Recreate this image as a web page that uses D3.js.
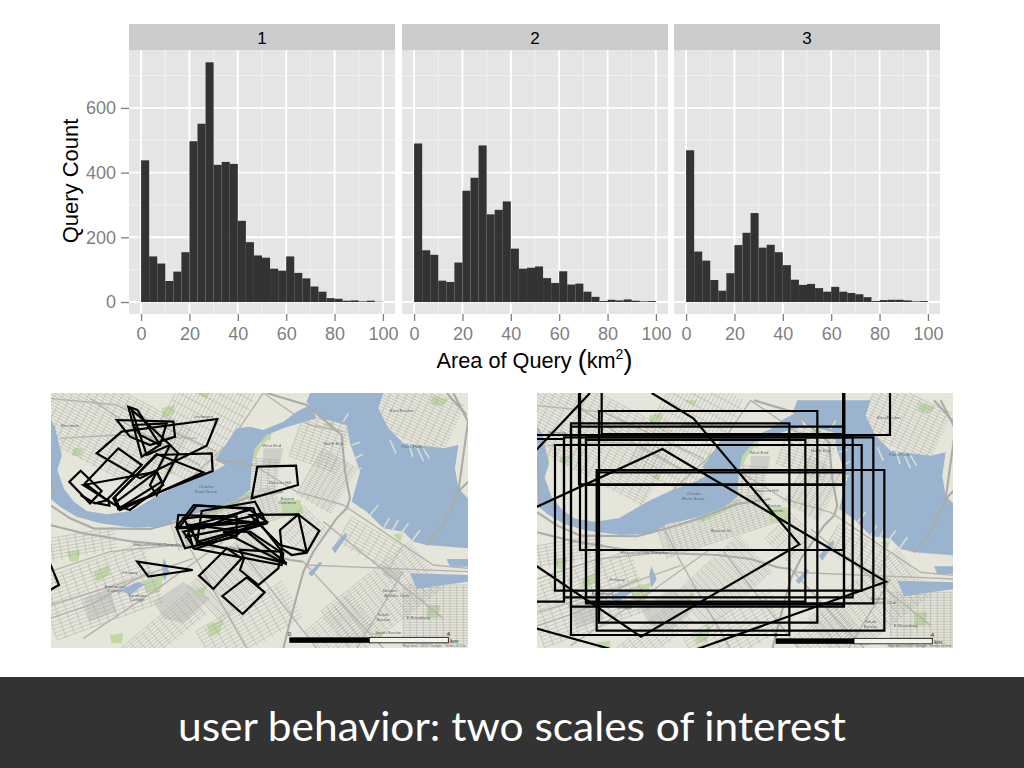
<!DOCTYPE html>
<html><head><meta charset="utf-8">
<style>html,body{margin:0;padding:0;background:#fff;overflow:hidden}svg{display:block}text{font-family:"Liberation Sans",Arial,sans-serif}</style>
<script src="https://d3js.org/d3.v7.min.js"></script></head>
<body><svg id="c" width="1024" height="768"></svg>
<script>
// ---------- histogram data ----------
const facets = ["1","2","3"];
const binWidth = 100/30;
const counts1 = [438,141,119,65,94,154,497,551,741,424,433,427,251,185,144,137,103,97,141,90,73,48,32,12,10,4,5,2,4,1];
const counts2 = [490,160,146,66,62,122,344,384,484,271,285,311,165,103,106,110,74,59,95,54,57,32,16,3,7,5,8,4,2,3];
const counts3 = [469,156,128,68,35,89,176,214,275,168,177,154,114,69,53,56,43,32,47,32,28,24,15,3,6,7,7,5,2,3];
const xTicks = [0,20,40,60,80,100];
const xMinor = [10,30,50,70,90];
const yTicks = [0,200,400,600];
const yMinor = [100,300,500,700];
const xTitle = "Area of Query ";
const yTitle = "Query Count";
const slideTitle = "user behavior: two scales of interest";

// ---------- query polygons on the maps (crop coordinates) ----------
const smallQueries = [
 [[502,102],[470,182],[270,280],[140,205],[215,140]],
 [[200,105],[370,110],[375,155],[300,180],[240,155]],
 [[235,65],[262,75],[330,180],[275,215]],
 [[205,190],[275,240],[170,345],[105,295]],
 [[58,290],[92,257],[155,318],[120,355]],
 [[485,205],[488,258],[205,370],[190,340],[320,210]],
 [[320,207],[460,262],[210,375],[195,335]],
 [[100,300],[320,260],[340,300],[240,375],[195,360]],
 [[92,330],[135,355],[175,345],[178,362],[125,352]],
 [[360,180],[385,205],[320,330],[300,300]],
 [[245,75],[275,100],[360,180],[290,210]],
 [[250,120],[350,115],[330,180],[270,150]],
 [[320,260],[200,350],[205,372],[335,290]],
 [[622,245],[738,242],[744,300],[605,340]],
 [[432,360],[595,372],[460,430],[380,425]],
 [[455,378],[615,350],[650,415],[440,480]],
 [[385,390],[560,395],[560,455],[405,490],[380,430]],
 [[410,420],[625,410],[700,505],[695,540],[430,490]],
 [[600,390],[745,388],[770,500],[690,480]],
 [[690,435],[745,388],[808,437],[770,503],[725,510],[695,490]],
 [[440,470],[710,535],[590,440],[420,420]],
 [[400,440],[640,385],[560,450],[435,492]],
 [[440,362],[610,370],[625,410],[385,430]],
 [[455,395],[640,415],[445,470],[400,400]],
 [[430,420],[600,375],[650,410],[410,455]],
 [[520,440],[705,535],[690,500],[600,440]],
 [[447,572],[530,490],[575,520],[490,612]],
 [[570,555],[582,520],[570,495],[695,500],[685,550],[625,600]],
 [[517,633],[590,577],[644,622],[578,687]],
 [[262,530],[428,555],[295,575]]
];
const smallOpen = [[[0,535],[27,600],[0,615]]];
const largeQueries = [
 [[-50,-10],[1080,-10],[1080,150],[-50,150]],
 [[215,-10],[940,-10],[940,147],[215,147]],
 [[150,-10],[940,-10],[940,300],[150,300]],
 [[150,-10],[940,-10],[940,495],[150,495]],
 [[147,-10],[943,-10],[943,298],[147,298]],
 [[207,78],[862,78],[862,713],[207,713]],
 [[123,115],[778,115],[778,750],[123,750]],
 [[123,125],[942,125],[942,665],[123,665]],
 [[102,157],[968,157],[968,637],[102,637]],
 [[168,157],[1030,157],[1030,655],[168,655]],
 [[75,180],[995,180],[995,617],[75,617]],
 [[168,165],[826,165],[826,650],[168,650]],
 [[200,255],[1063,255],[1063,737],[200,737]],
 [[205,262],[942,262],[942,658],[205,658]],
 [[-50,162],[102,162],[102,650],[-50,650]]
];
const largeOpen = [
 [[0,375],[397,192],[1068,590],[480,800]],
 [[365,24],[490,100],[808,478],[333,755],[0,530]],
 [[180,24],[0,215]],
 [[0,725],[270,800]]
];

// ---------- base map illustration (crop coordinates of the first map) ----------
const water = [
 [[0,100],[15,125],[35,215],[22,255],[42,312],[72,350],[110,378],[170,388],[245,378],[330,328],[400,295],[480,265],[525,240],[495,225],[520,190],[560,130],[600,125],[640,135],[700,110],[740,80],[780,60],[800,100],[700,130],[650,150],[615,190],[605,240],[600,315],[560,345],[480,375],[390,395],[340,425],[250,428],[150,415],[80,395],[30,365],[0,340]],
 [[780,24],[1000,24],[985,70],[1015,130],[1060,175],[1180,190],[1225,180],[1215,250],[1225,310],[1254,340],[1254,490],[1130,480],[1090,470],[1060,440],[1000,430],[950,380],[905,350],[930,260],[900,175],[890,120],[810,100],[770,50]],
 [[1080,565],[1254,570],[1254,590],[1180,600],[1100,612]],
 [[1190,522],[1254,522],[1254,545],[1200,545]],
 [[845,490],[885,445],[892,452],[855,505]],
 [[775,565],[810,530],[816,535],[785,575]],
 [[210,615],[265,590],[285,598],[240,630]],
 [[342,520],[358,560],[342,588],[336,550]]
];
const parks = [
 [[690,345],[750,345],[762,385],[700,395]],
 [[480,375],[560,345],[600,318],[610,325],[560,358],[490,390]],
 [[608,185],[640,145],[665,150],[630,190],[612,230]],
 [[335,70],[375,60],[370,90],[340,95]],
 [[70,190],[100,190],[90,215],[65,210]],
 [[20,190],[35,190],[35,215],[22,215]],
 [[1150,30],[1195,45],[1170,65],[1140,55]],
 [[1060,190],[1090,175],[1075,215]],
 [[50,500],[90,495],[85,530],[60,530]],
 [[130,560],[175,540],[180,570],[140,590]],
 [[280,590],[340,570],[330,620],[290,625]],
 [[180,750],[220,745],[215,775],[185,775]],
 [[470,720],[520,705],[510,745],[480,755]],
 [[1130,660],[1170,660],[1165,700],[1130,700]],
 [[430,620],[470,600],[460,640]],
 [[1030,450],[1060,440],[1050,470]],
 [[440,24],[480,24],[470,42]],
 [[960,745],[1000,740],[995,760]],
 [[640,150],[665,140],[660,170]],
 [[340,250],[370,245],[365,270]],
 [[820,120],[850,110],[850,135]]
];
const grayLots = [
 [[310,650],[400,590],[480,640],[400,715],[340,700]],
 [[640,190],[700,190],[690,240],[640,240]],
 [[1000,540],[1060,560],[1040,590],[1000,570]],
 [[100,640],[180,610],[200,680],[120,710]]
];
const gridPatches = [
 {c:[170,130],w:460,h:240,a:28,s:9},{c:[450,120],w:330,h:220,a:-62,s:11},{c:[820,150],w:150,h:190,a:20,s:9},
 {c:[1100,90],w:240,h:170,a:25,s:9},{c:[530,400],w:330,h:100,a:-18,s:7},{c:[620,270],w:130,h:100,a:5,s:8},
 {c:[830,290],w:120,h:160,a:30,s:7},{c:[760,440],w:110,h:110,a:45,s:9},{c:[560,570],w:260,h:150,a:-43,s:7},
 {c:[150,620],w:340,h:190,a:-20,s:11},{c:[90,480],w:220,h:70,a:-10,s:10},{c:[600,720],w:300,h:130,a:-30,s:11},
 {c:[1000,640],w:340,h:170,a:-38,s:8},{c:[1160,690],w:200,h:180,a:0,s:8},{c:[960,480],w:180,h:90,a:30,s:10},
 {c:[330,750],w:300,h:90,a:-40,s:9},{c:[870,730],w:170,h:120,a:-40,s:9}
];
const highways = [
 [[0,420],[100,445],[250,470],[380,482],[540,488],[640,500],[720,525],[760,530]],
 [[0,360],[60,400],[130,430],[300,432],[400,405],[480,380],[600,335],[700,320]],
 [[700,790],[725,690],[760,560],[790,500],[860,400],[890,370],[900,340],[885,260],[875,150],[770,60],[650,24]],
 [[0,190],[8,330]],
 [[500,225],[610,240]],
 [[1190,24],[1250,90]],
 [[1254,290],[1225,320],[1180,420],[1130,480]],
 [[1210,24],[1254,110],[1225,320]]
];
const arterials = [
 [[0,40],[200,60],[500,200]],[[120,40],[250,130],[450,240]],[[640,24],[540,170],[400,300]],[[30,160],[200,150],[440,160]],
 [[0,560],[180,500],[380,480]],[[100,760],[310,620],[520,470]],[[0,660],[200,600],[430,520]],[[420,490],[590,790]],
 [[560,480],[800,790]],[[820,410],[1180,700]],[[880,360],[1150,540],[1254,550]],[[760,530],[1000,790]],[[920,790],[1060,560]],
 [[770,540],[1254,560]],[[345,330],[415,480]],[[640,24],[780,120],[880,140]],[[0,700],[120,660],[300,560]],[[610,240],[740,320],[880,360]]
];
const piers = [
 [[1000,430],[1018,400]],[[1025,440],[1045,405]],[[1050,450],[1075,415]],[[1085,470],[1110,435]],[[960,390],[985,360]],
 [[1020,165],[1038,205]],[[1075,170],[1088,215]],[[1100,185],[1120,228]],[[1120,190],[1138,220]],[[880,110],[895,85]],[[905,180],[930,172]],[[915,220],[938,208]],[[915,255],[935,250]]
];
const mapLabels = [
 ["Charles",470,308],["River Basin",468,324],["Beacon Hill",690,298],["Boston",712,345],["Common",712,358],["East Boston",1055,80],
 ["Piers Park",1085,190],["North End",850,180],["West End",665,185],["South",1000,692],["Boston",1000,708],["E Broadway",1105,703],
 ["Boston",1020,622],["Athletic Club",1040,635],["South Boston",1015,746],["Riverside",60,125],["Beacon St",550,420],["Massachusetts Turnpike",320,484],
 ["Fenway",240,566],["Emmanuel",195,608],["College",195,620],["Simmons",262,636],["College",262,649],["Lechmere",460,100]
];

const svg = d3.select("#c");
const defs = svg.append("defs");
defs.append("filter").attr("id","soft").attr("x","-2%").attr("y","-2%").attr("width","104%").attr("height","104%")
  .append("feGaussianBlur").attr("stdDeviation",0.35);

// ---------- facets ----------
const panelW = 266, panelTop = 50, panelBottom = 314, stripTop = 24;
const panelX = [129,402,674];
const y = d3.scaleLinear().domain([-37,779]).range([panelBottom,panelTop]);
const allCounts = [counts1,counts2,counts3];
const grey = "#7f7f7f";

facets.forEach((name,i)=>{
  const x0 = panelX[i];
  const x = d3.scaleLinear().domain([-5,105]).range([x0,x0+panelW]);
  const g = svg.append("g");
  g.append("rect").attr("x",x0).attr("y",stripTop).attr("width",panelW).attr("height",panelTop-stripTop).attr("fill","#cccccc");
  g.append("text").attr("x",x0+panelW/2).attr("y",44).attr("text-anchor","middle").attr("font-size",17).attr("fill","#000").text(name);
  g.append("rect").attr("x",x0).attr("y",panelTop).attr("width",panelW).attr("height",panelBottom-panelTop).attr("fill","#e5e5e5");
  g.selectAll(".vm").data(xMinor).join("line").attr("x1",d=>x(d)).attr("x2",d=>x(d)).attr("y1",panelTop).attr("y2",panelBottom).attr("stroke","#f2f2f2").attr("stroke-width",1);
  g.selectAll(".hm").data(yMinor).join("line").attr("y1",d=>y(d)).attr("y2",d=>y(d)).attr("x1",x0).attr("x2",x0+panelW).attr("stroke","#f2f2f2").attr("stroke-width",1);
  g.selectAll(".vM").data(xTicks).join("line").attr("x1",d=>x(d)).attr("x2",d=>x(d)).attr("y1",panelTop).attr("y2",panelBottom).attr("stroke","#fff").attr("stroke-width",1.9);
  g.selectAll(".hM").data(yTicks).join("line").attr("y1",d=>y(d)).attr("y2",d=>y(d)).attr("x1",x0).attr("x2",x0+panelW).attr("stroke","#fff").attr("stroke-width",1.9);
  g.selectAll(".bar").data(allCounts[i]).join("rect")
    .attr("x",(d,k)=>x(k*binWidth)).attr("width",x(binWidth)-x(0))
    .attr("y",d=>y(d)).attr("height",d=>y(0)-y(d)).attr("fill","#333333");
  const ax = svg.append("g").attr("transform",`translate(0,${panelBottom})`)
    .call(d3.axisBottom(x).tickValues(xTicks).tickSize(7).tickPadding(6).tickFormat(d3.format("d")));
  ax.select(".domain").remove();
  ax.selectAll("line").attr("stroke",grey).attr("stroke-width",1.3);
  ax.selectAll("text").attr("fill",grey).attr("font-size",18).attr("font-family",'"Liberation Sans",Arial,sans-serif');
});
const ay = svg.append("g").attr("transform",`translate(${panelX[0]},0)`)
  .call(d3.axisLeft(y).tickValues(yTicks).tickSize(8).tickPadding(5).tickFormat(d3.format("d")));
ay.select(".domain").remove();
ay.selectAll("line").attr("stroke",grey).attr("stroke-width",1.3);
ay.selectAll("text").attr("fill",grey).attr("font-size",18).attr("font-family",'"Liberation Sans",Arial,sans-serif');

svg.append("text").attr("transform","translate(78,181) rotate(-90)").attr("text-anchor","middle").attr("font-size",22).attr("fill","#000").text(yTitle);
const xt = svg.append("text").attr("x",534.5).attr("y",368).attr("text-anchor","middle").attr("font-size",21.7).attr("fill","#000");
xt.append("tspan").text(xTitle);
xt.append("tspan").attr("font-size",27).attr("dy",1).text("(");
xt.append("tspan").attr("dy",-1).text("km");
xt.append("tspan").attr("font-size",14).attr("dy",-9).text("2");
xt.append("tspan").attr("font-size",27).attr("dy",10).text(")");

// ---------- maps ----------
function drawMap(idx, rect, base, over, queries, openLines){
  const id = "clip"+idx;
  defs.append("clipPath").attr("id",id).append("rect").attr("x",rect[0]).attr("y",rect[1]).attr("width",rect[2]).attr("height",rect[3]);
  const root = svg.append("g").attr("clip-path",`url(#${id})`);
  root.append("rect").attr("x",rect[0]).attr("y",rect[1]).attr("width",rect[2]).attr("height",rect[3]).attr("fill","#e6e5da");
  const m = root.append("g").attr("filter","url(#soft)");
  const bx = d3.scaleLinear().domain([0,300]).range([base[0],base[0]+100]);
  const by = d3.scaleLinear().domain([0,300]).range([base[1],base[1]+100]);
  const line = d3.line().x(d=>bx(d[0])).y(d=>by(d[1]));
  const closed = p=>line(p)+"Z";
  m.selectAll(".lot").data(grayLots).join("path").attr("d",closed).attr("fill","#cfcfca");
  m.selectAll(".park").data(parks).join("path").attr("d",closed).attr("fill","#c0d8a6");
  gridPatches.forEach(p=>{
    const gg = m.append("g").attr("stroke","#a6a6a0").attr("stroke-width",0.55).attr("stroke-opacity",0.85);
    const r = p.a*Math.PI/180, cos=Math.cos(r), sin=Math.sin(r);
    const pt=(u,v)=>[p.c[0]+u*cos-v*sin,p.c[1]+u*sin+v*cos];
    d3.range(-p.h/2,p.h/2,p.s).forEach(v=>{
      const a=pt(-p.w/2,v),b=pt(p.w/2,v);
      gg.append("line").attr("x1",bx(a[0])).attr("y1",by(a[1])).attr("x2",bx(b[0])).attr("y2",by(b[1]));
    });
    d3.range(-p.w/2,p.w/2,p.s*2.5).forEach(u=>{
      const a=pt(u,-p.h/2),b=pt(u,p.h/2);
      gg.append("line").attr("x1",bx(a[0])).attr("y1",by(a[1])).attr("x2",bx(b[0])).attr("y2",by(b[1]));
    });
  });
  m.selectAll(".art").data(arterials).join("path").attr("d",line).attr("fill","none").attr("stroke","#b4b4ae").attr("stroke-width",1.4);
  m.selectAll(".water").data(water).join("path").attr("d",closed).attr("fill","#9ab4d0");
  m.selectAll(".pier").data(piers).join("path").attr("d",line).attr("fill","none").attr("stroke","#dcdcd0").attr("stroke-width",1.6);
  m.selectAll(".hw").data(highways).join("path").attr("d",line).attr("fill","none").attr("stroke","#ababa8").attr("stroke-width",2.1);
  m.selectAll(".lab").data(mapLabels).join("text").attr("x",d=>bx(d[1])).attr("y",d=>by(d[2])).attr("text-anchor","middle")
    .attr("font-size",4.4).attr("fill","#5f6a6f").text(d=>d[0]);

  const ox = d3.scaleLinear().domain([0,300]).range([over[0],over[0]+100]);
  const oy = d3.scaleLinear().domain([0,300]).range([over[1],over[1]+100]);
  const ol = d3.line().x(d=>ox(d[0])).y(d=>oy(d[1]));
  root.selectAll(".q").data(queries).join("path").attr("d",p=>ol(p)+"Z").attr("fill","none").attr("stroke","#000").attr("stroke-width",2.2).attr("stroke-linejoin","miter");
  root.selectAll(".qo").data(openLines).join("path").attr("d",ol).attr("fill","none").attr("stroke","#000").attr("stroke-width",2.2);

  // scale bar
  const sb = idx===1 ? [718,958,1195,757] : [737,972,1207,760];
  root.append("rect").attr("x",ox(sb[0])).attr("y",oy(sb[3])).attr("width",ox(sb[1])-ox(sb[0])).attr("height",5.5).attr("fill","#000");
  root.append("rect").attr("x",ox(sb[1])).attr("y",oy(sb[3])).attr("width",ox(sb[2])-ox(sb[1])).attr("height",5.5).attr("fill","#f2f2ee").attr("stroke","#000").attr("stroke-width",0.8);
  root.append("text").attr("x",ox(sb[0])).attr("y",oy(sb[3])-1.5).attr("font-size",6).attr("text-anchor","middle").attr("fill","#222").text("0");
  root.append("text").attr("x",ox(sb[2])).attr("y",oy(sb[3])-1.5).attr("font-size",6).attr("text-anchor","middle").attr("fill","#222").text("4");
  root.append("text").attr("x",ox(sb[2])+2).attr("y",oy(sb[3])+6).attr("font-size",6).attr("fill","#222").text("km");
  root.append("text").attr("x",rect[0]+rect[2]-2).attr("y",rect[1]+rect[3]-1).attr("text-anchor","end").attr("font-size",3.6).attr("fill","#666").text("Map data ©2012 Google - Terms of Use");
}
drawMap(1,[51,393,417,255],[50,385],[50,385],smallQueries,smallOpen);
drawMap(2,[537,393,416,255],[537.3,392.3],[530,385],largeQueries,largeOpen);

// ---------- slide title ----------
svg.append("rect").attr("x",0).attr("y",677).attr("width",1024).attr("height",91).attr("fill","#333333");
svg.append("text").attr("x",178).attr("y",741).attr("fill","#fff").attr("font-size",41)
  .style("font-family",'Lato,sans-serif').attr("textLength",668).attr("lengthAdjust","spacingAndGlyphs").text(slideTitle);
</script></body></html>
